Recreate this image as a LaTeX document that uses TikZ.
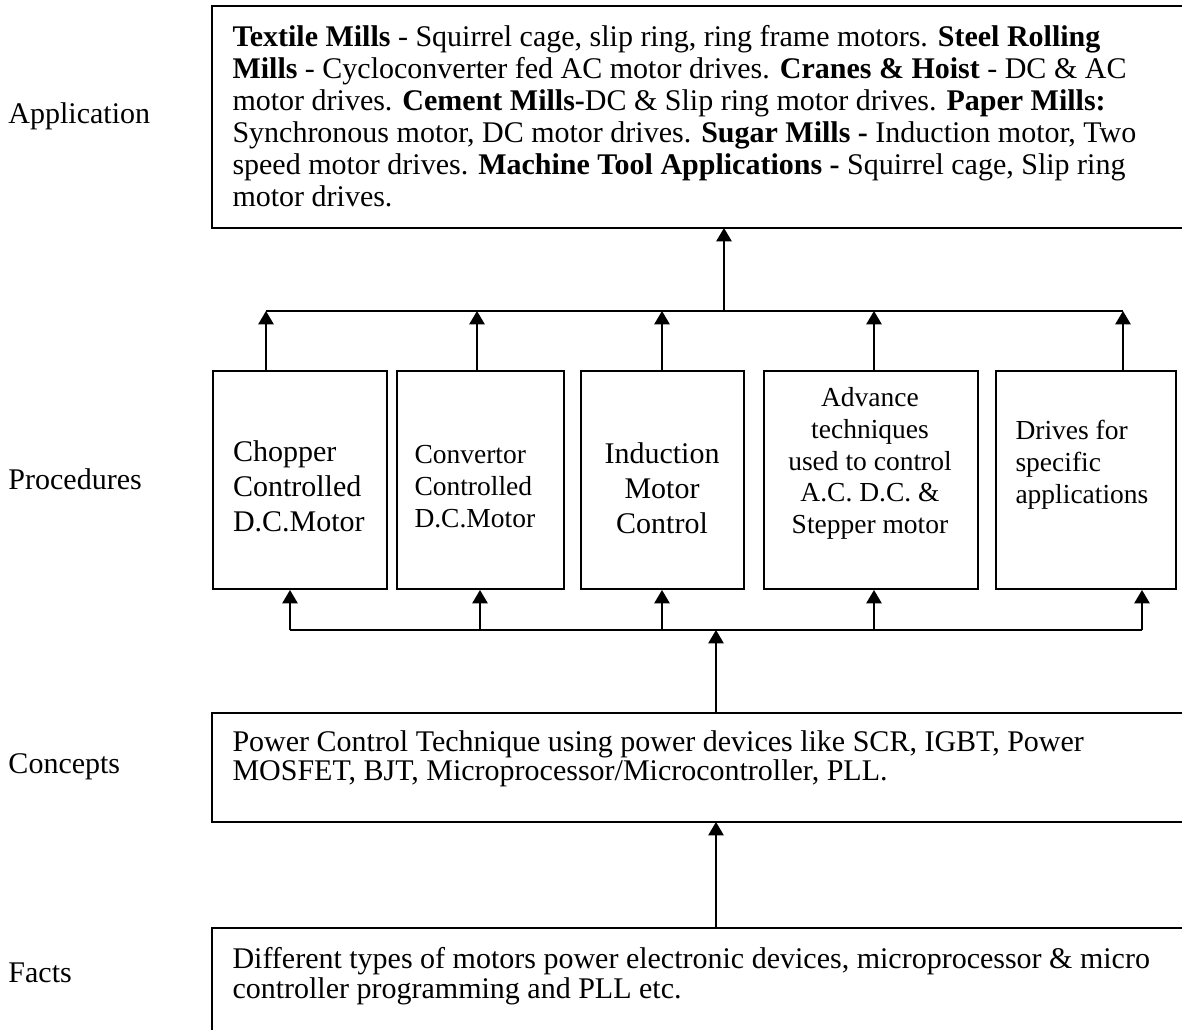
\documentclass[tikz,border=0pt]{standalone}
\usepackage{fontspec}
\setmainfont{Liberation Serif}
\usetikzlibrary{arrows.meta}
\newcommand\fTop{\fontsize{12}{12.8}\selectfont\lineskiplimit=-100pt\lineskip=0pt}
\newcommand\fBig{\fontsize{12}{14}\selectfont\lineskiplimit=-100pt\lineskip=0pt}
\newcommand\fSmall{\fontsize{11}{12.7}\selectfont\lineskiplimit=-100pt\lineskip=0pt}
\newcommand\fCon{\fontsize{12}{11.6}\selectfont\lineskiplimit=-100pt\lineskip=0pt}
\newcommand\fFac{\fontsize{12}{12.2}\selectfont\lineskiplimit=-100pt\lineskip=0pt}
\newcommand\fLbl{\fontsize{12}{14}\selectfont}
\begin{document}
\begin{tikzpicture}[x=0.4pt,y=-0.4pt,
  frameline/.style={line width=0.8pt,line join=miter},
  pbox/.style={draw,line width=0.8pt,inner sep=0pt,anchor=north west,minimum height=218*0.4pt},
  area/.style={inner sep=0pt,anchor=north west,minimum width=970*0.4pt},
  txt/.style={inner sep=0pt,align=left,anchor=north west},
  ctxt/.style={inner sep=0pt,align=center,anchor=north},
  lbl/.style={inner sep=0pt,anchor=west,font=\fLbl},
  wire/.style={line width=0.65pt},
  arr/.style={line width=0.65pt,-{Triangle[length=5.4pt,width=6.2pt]}}]
\useasboundingbox (0,0) rectangle (1182,1030);

% side labels
\node[lbl] (lapp)  at (8,116) {Application};
\node[lbl] (lproc) at (8,479) {Procedures};
\node[lbl] (lcon)  at (8,767) {Concepts};
\node[lbl] (lfac)  at (8,973) {Facts};

% application box (open to the right)
\node[area,minimum height=221*0.4pt] (app) at (212,6) {};
\draw[frameline] (app.north east) -- (app.north west) -- (app.south west) -- (app.south east);
\node[txt,font=\fTop] (apptxt) at (232,24.5) {\textbf{Textile Mills} - Squirrel cage, slip ring, ring frame motors. \textbf{Steel Rolling}\\
\textbf{Mills} - Cycloconverter fed AC motor drives. \textbf{Cranes \& Hoist} - DC \& AC\\
motor drives. \textbf{Cement Mills-}DC \& Slip ring motor drives. \textbf{Paper Mills:}\\
Synchronous motor, DC motor drives. \textbf{Sugar Mills -} Induction motor, Two\\
speed motor drives. \textbf{Machine Tool Applications -} Squirrel cage, Slip ring\\
motor drives.};

% procedure boxes
\node[pbox,minimum width=174*0.4pt] (b1) at (212,370) {};
\node[pbox,minimum width=167*0.4pt] (b2) at (396,370) {};
\node[pbox,minimum width=163*0.4pt] (b3) at (580,370) {};
\node[pbox,minimum width=214*0.4pt] (b4) at (763,370) {};
\node[pbox,minimum width=180*0.4pt] (b5) at (995,370) {};
\node[txt,font=\fBig] (t1) at (232.5,440) {Chopper\\Controlled\\D.C.Motor};
\node[txt,font=\fSmall] (t2) at (414,445) {Convertor\\Controlled\\D.C.Motor};
\node[ctxt,font=\fBig] (t3) at (662,442) {Induction\\Motor\\Control};
\node[ctxt,font=\fSmall] (t4) at (870,387) {Advance\\techniques\\used to control\\A.C. D.C. \&\\Stepper motor};
\node[txt,font=\fSmall] (t5) at (1015,420) {Drives for\\specific\\applications};

% concepts box
\node[area,minimum height=108*0.4pt] (con) at (212,713) {};
\draw[frameline] (con.north east) -- (con.north west) -- (con.south west) -- (con.south east);
\node[txt,font=\fCon] (contxt) at (232,730) {Power Control Technique using power devices like SCR, IGBT, Power\\
MOSFET, BJT, Microprocessor/Microcontroller, PLL.};

% facts box
\node[area,minimum height=102*0.4pt] (fac) at (212,928) {};
\draw[frameline] (fac.north east) -- (fac.north west) -- (fac.south west);
\node[txt,font=\fFac] (factxt) at (232,946.5) {Different types of motors power electronic devices, microprocessor \& micro\\
controller programming and PLL etc.};

% upper bus
\coordinate (ub1) at (266,311);
\coordinate (ub2) at (477,311);
\coordinate (ub3) at (662,311);
\coordinate (ub4) at (874,311);
\coordinate (ub5) at (1123,311);
\coordinate (ubm) at (724,311);
\draw[wire] (ub1) -- (ub5);
\draw[arr] (ub1 |- b1.north) -- (ub1);
\draw[arr] (ub2 |- b2.north) -- (ub2);
\draw[arr] (ub3 |- b3.north) -- (ub3);
\draw[arr] (ub4 |- b4.north) -- (ub4);
\draw[arr] (ub5 |- b5.north) -- (ub5);
\draw[arr] (ubm) -- (ubm |- app.south);

% lower bus
\coordinate (lb1) at (290,630);
\coordinate (lb2) at (480,630);
\coordinate (lb3) at (662,630);
\coordinate (lb4) at (874,630);
\coordinate (lb5) at (1142,630);
\coordinate (lbm) at (716,630);
\draw[wire] (lb1) -- (lb5);
\draw[arr] (lb1) -- (lb1 |- b1.south);
\draw[arr] (lb2) -- (lb2 |- b2.south);
\draw[arr] (lb3) -- (lb3 |- b3.south);
\draw[arr] (lb4) -- (lb4 |- b4.south);
\draw[arr] (lb5) -- (lb5 |- b5.south);
\draw[arr] (lbm |- con.north) -- (lbm);
\draw[arr] (lbm |- fac.north) -- (lbm |- con.south);
\end{tikzpicture}
\end{document}
